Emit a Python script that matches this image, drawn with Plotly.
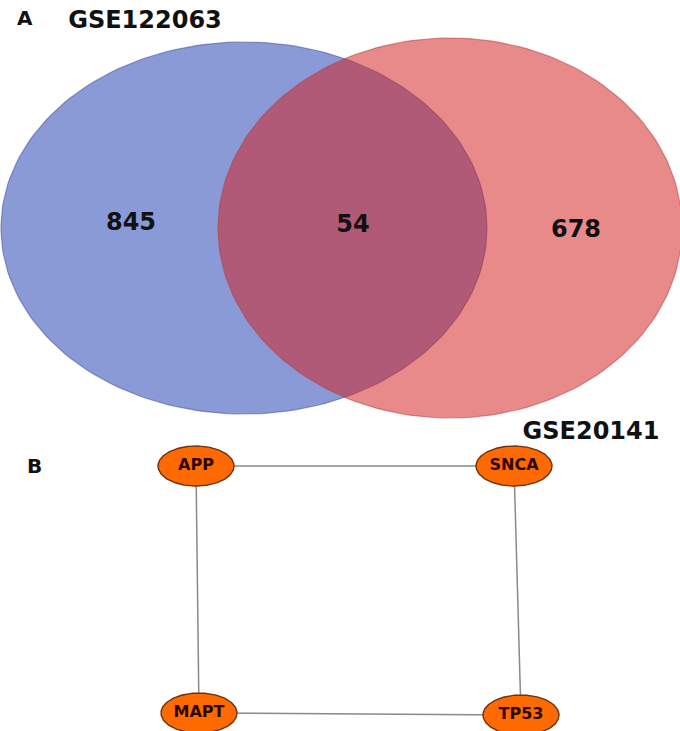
import numpy as np
import plotly.graph_objects as go

# ---- data ----
set_names = ["GSE122063", "GSE20141"]
region_labels = ["only_GSE122063", "both", "only_GSE20141"]
region_counts = [845, 54, 678]

node_names = ["APP", "SNCA", "MAPT", "TP53"]
edge_list = [("APP", "SNCA"), ("APP", "MAPT"), ("SNCA", "TP53"), ("MAPT", "TP53")]

# ---- layout (pixel space) ----
W, H = 680, 731
venn_geom = {  # cx, cy, rx, ry
    "GSE122063": (244, 228, 243, 186),
    "GSE20141": (450, 228, 232, 190),
}
venn_fill = {
    "GSE122063": "rgb(138,154,214)",
    "GSE20141": "rgba(211,34,34,0.53)",
}
venn_line = {
    "GSE122063": "rgba(80,90,160,0.6)",
    "GSE20141": "rgba(180,60,60,0.5)",
}
count_pos = [(131, 224), (353, 226), (576, 231)]
setlabel_pos = {"GSE122063": (145, 22), "GSE20141": (591, 433)}

node_pos = {"APP": (196, 466), "SNCA": (514, 466), "MAPT": (199, 713), "TP53": (521, 715)}
node_rx, node_ry = 38, 20

fig = go.Figure()

t = np.linspace(0, 2 * np.pi, 200)
for name in set_names:
    cx, cy, rx, ry = venn_geom[name]
    fig.add_trace(go.Scatter(
        x=cx + rx * np.cos(t), y=cy + ry * np.sin(t), mode="lines",
        fill="toself", fillcolor=venn_fill[name],
        line=dict(color=venn_line[name], width=1.2),
        hoverinfo="skip", showlegend=False))

fig.add_trace(go.Scatter(
    x=[p[0] for p in count_pos], y=[p[1] for p in count_pos],
    mode="text", text=[str(v) for v in region_counts],
    textfont=dict(family="DejaVu Sans", size=24, color="#111111", weight="bold"),
    hoverinfo="skip", showlegend=False))

fig.add_trace(go.Scatter(
    x=[setlabel_pos[n][0] for n in set_names], y=[setlabel_pos[n][1] for n in set_names],
    mode="text", text=set_names,
    textfont=dict(family="DejaVu Sans", size=24, color="#111111", weight="bold"),
    hoverinfo="skip", showlegend=False))

# edges
for a, b in edge_list:
    (x0, y0), (x1, y1) = node_pos[a], node_pos[b]
    fig.add_trace(go.Scatter(x=[x0, x1], y=[y0, y1], mode="lines",
                             line=dict(color="#8a8a8a", width=1.5),
                             hoverinfo="skip", showlegend=False))

# nodes
for n in node_names:
    cx, cy = node_pos[n]
    fig.add_trace(go.Scatter(
        x=cx + node_rx * np.cos(t), y=cy + node_ry * np.sin(t), mode="lines",
        fill="toself", fillcolor="#ff6a00",
        line=dict(color="#6e3010", width=1.4),
        hoverinfo="skip", showlegend=False))

fig.add_trace(go.Scatter(
    x=[node_pos[n][0] for n in node_names], y=[node_pos[n][1] for n in node_names],
    mode="text", text=node_names,
    textfont=dict(family="DejaVu Sans", size=16, color="#2a0800", weight="bold"),
    hoverinfo="skip", showlegend=False))

# panel letters
for letter, (x, y) in {"A": (25, 18), "B": (34, 466)}.items():
    fig.add_annotation(x=x, y=y, text=letter, showarrow=False,
                       font=dict(family="DejaVu Sans", size=20, color="#111111", weight="bold"))

fig.update_layout(
    width=W, height=H, margin=dict(l=0, r=0, t=0, b=0),
    paper_bgcolor="white", plot_bgcolor="white",
    xaxis=dict(range=[0, W], visible=False, fixedrange=True),
    yaxis=dict(range=[H, 0], visible=False, fixedrange=True),
)
fig.write_html(
    "out.html",
    config={"displayModeBar": False},
    post_script="document.body.style.margin='0';document.body.style.overflow='hidden';",
)
